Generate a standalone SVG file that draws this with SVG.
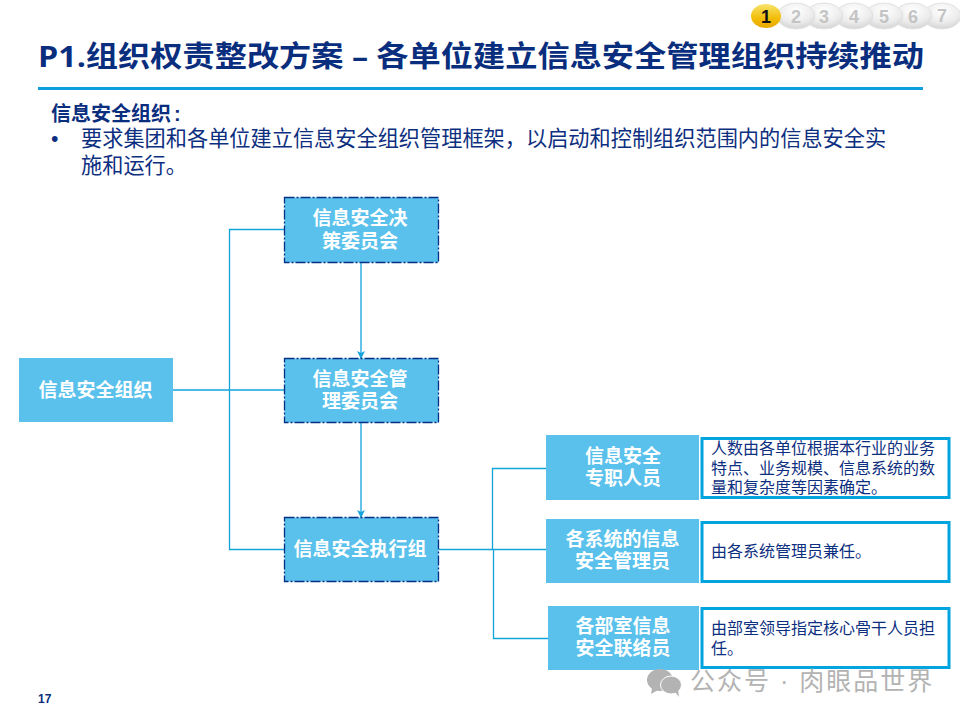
<svg xmlns="http://www.w3.org/2000/svg" width="960" height="720" viewBox="0 0 960 720">
<defs>
<style>
text{font-family:"Liberation Sans","Noto Sans CJK SC",sans-serif}
.box{fill:#59c1ec}
.dash{stroke:#062f86;stroke-width:1.3;stroke-dasharray:10 2 2 2}
.lbl{fill:#fff;font-size:19px;font-weight:700;text-anchor:middle}
.note{fill:#fff;stroke:#00a5e0;stroke-width:3}
.nt{fill:#0d2f80;font-size:16px}
.body{fill:#0d2f80;font-size:21.200px}
.c{fill:none;stroke:#12a3dc;stroke-width:1.3}
.pill{fill:url(#g);stroke:#e2e2e2;stroke-width:1}
.pn{fill:#c4c4c4;font-size:18px;font-weight:700;text-anchor:middle}
</style>
<radialGradient id="g" cx="0.5" cy="0.3" r="0.75"><stop offset="0" stop-color="#ffffff"/><stop offset="0.6" stop-color="#ececec"/><stop offset="1" stop-color="#cfcfcf"/></radialGradient>
<linearGradient id="y" x1="0" y1="0" x2="0" y2="1"><stop offset="0" stop-color="#f8e36a"/><stop offset="0.6" stop-color="#f2bd08"/><stop offset="1" stop-color="#e8a800"/></linearGradient>
<marker id="a" viewBox="0 0 8 8" refX="7" refY="4" markerWidth="8" markerHeight="8" orient="auto" markerUnits="userSpaceOnUse"><path d="M0 0L8 4L0 8L2 4Z" fill="#12a3dc"/></marker>
</defs>
<rect width="960" height="720" fill="#fff"/>
<g id="pager">
<ellipse class="pill" cx="942" cy="16" rx="19" ry="13"/><text class="pn" x="942" y="22">7</text>
<ellipse class="pill" cx="913" cy="16" rx="19" ry="13"/><text class="pn" x="913" y="23">6</text>
<ellipse class="pill" cx="884" cy="16" rx="19" ry="13"/><text class="pn" x="884" y="23">5</text>
<ellipse class="pill" cx="854" cy="16" rx="19" ry="13"/><text class="pn" x="854" y="23">4</text>
<ellipse class="pill" cx="824" cy="16" rx="19" ry="13"/><text class="pn" x="824" y="23">3</text>
<ellipse class="pill" cx="796" cy="16" rx="19" ry="13"/><text class="pn" x="796" y="23">2</text>
<ellipse cx="766" cy="16" rx="15" ry="12" fill="url(#y)"/><text x="766" y="23" font-size="18" font-weight="700" text-anchor="middle" fill="#111">1</text>
</g>
<text x="38" y="67" font-size="29" font-weight="700" fill="#0a2e7e" textLength="886" lengthAdjust="spacingAndGlyphs" style="font-family:'Open Sans','Noto Sans CJK SC',sans-serif">P1.组织权责整改方案 – 各单位建立信息安全管理组织持续推动</text>
<rect x="38" y="87" width="885" height="3" fill="#0ea0dc"/>
<text x="51" y="121" font-size="20" font-weight="700" fill="#0a2e7e">信息安全组织<tspan dx="3">:</tspan></text>
<text class="body" x="51" y="146">•</text>
<text class="body" x="81" y="146">要求集团和各单位建立信息安全组织管理框架，以启动和控制组织范围内的信息安全实</text>
<text class="body" x="81" y="173">施和运行。</text>
<g id="connectors">
<path class="c" d="M173 390H284"/>
<path class="c" d="M284 229.500H229.500V549.500H284"/>
<path class="c" d="M361 263V358" marker-end="url(#a)"/>
<path class="c" d="M361 423V517" marker-end="url(#a)"/>
<path class="c" d="M439 549.500H546"/>
<path class="c" d="M546 468.500H492.500V549.500"/>
<path class="c" d="M493.500 549.500V638.500H548"/>
</g>
<g id="n1"><rect class="box" x="19" y="358" width="154" height="64"/><text class="lbl" x="95.500" y="397">信息安全组织</text></g>
<g id="n2"><rect class="box dash" x="284.500" y="197.500" width="154" height="65"/><text class="lbl" x="360" y="225">信息安全决</text><text class="lbl" x="360" y="248">策委员会</text></g>
<g id="n3"><rect class="box dash" x="284.500" y="358.500" width="154" height="64"/><text class="lbl" x="360" y="386">信息安全管</text><text class="lbl" x="360" y="408">理委员会</text></g>
<g id="n4"><rect class="box dash" x="284.500" y="517.500" width="154" height="64"/><text class="lbl" x="360" y="556">信息安全执行组</text></g>
<g id="n5"><rect class="box" x="546" y="435" width="153" height="65"/><text class="lbl" x="623" y="463">信息安全</text><text class="lbl" x="623" y="485">专职人员</text></g>
<g id="n6"><rect class="box" x="546" y="519" width="153" height="64"/><text class="lbl" x="622.500" y="546">各系统的信息</text><text class="lbl" x="622.500" y="568">安全管理员</text></g>
<g id="n7"><rect class="box" x="548" y="606" width="151" height="64"/><text class="lbl" x="623" y="633">各部室信息</text><text class="lbl" x="623" y="655">安全联络员</text></g>
<g id="t1"><rect class="note" x="702" y="438.500" width="247" height="59"/><text class="nt" x="711" y="454">人数由各单位根据本行业的业务</text><text class="nt" x="711" y="474">特点、业务规模、信息系统的数</text><text class="nt" x="711" y="493">量和复杂度等因素确定。</text></g>
<g id="t2"><rect class="note" x="702" y="522.500" width="247" height="59"/><text class="nt" x="711" y="557">由各系统管理员兼任。</text></g>
<g id="t3"><rect class="note" x="702" y="608.500" width="247" height="59"/><text class="nt" x="711" y="634">由部室领导指定核心骨干人员担</text><text class="nt" x="711" y="654">任。</text></g>
<text x="38" y="703" font-size="12" font-weight="700" fill="#0a2e7e">17</text>
<g id="watermark" fill="#b3b3b3">
<ellipse cx="660" cy="680" rx="13" ry="11"/><path d="M652 688l-1 6 7-4z"/>
<ellipse cx="671" cy="685" rx="10.500" ry="9" stroke="#fff"/><path d="M675 692l4 5-1-7z"/>
<text x="690" y="690" font-size="25" letter-spacing="2">公众号 · 肉眼品世界</text>
</g>
</svg>
